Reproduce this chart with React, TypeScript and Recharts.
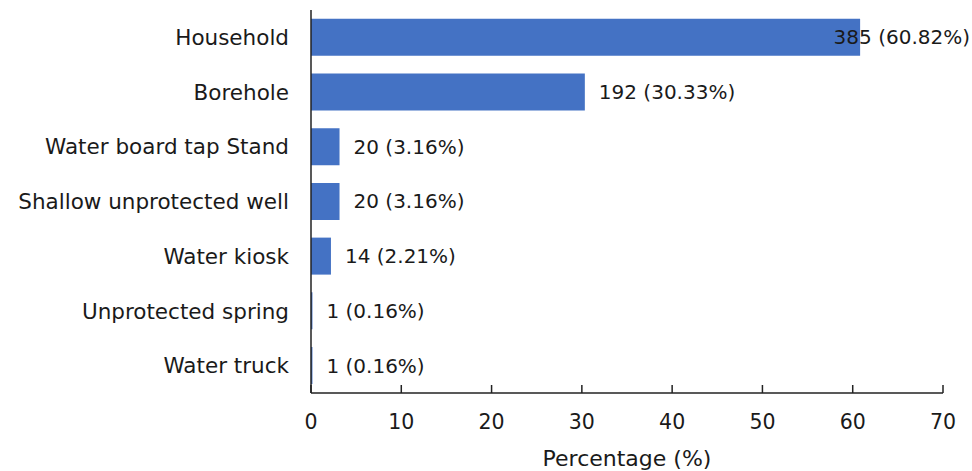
import { BarChart, Bar, XAxis, YAxis, LabelList } from 'recharts';

const categories = [
  'Household',
  'Borehole',
  'Water board tap Stand',
  'Shallow unprotected well',
  'Water kiosk',
  'Unprotected spring',
  'Water truck',
];
const counts = [385, 192, 20, 20, 14, 1, 1];
const percents = [60.82, 30.33, 3.16, 3.16, 2.21, 0.16, 0.16];
const xTicks = [0, 10, 20, 30, 40, 50, 60, 70];

const data = categories.map((name, i) => ({
  name,
  pct: percents[i],
  label: `${counts[i]} (${percents[i].toFixed(2)}%)`,
}));

const W = 972;
const H = 471;
const FONT = "'DejaVu Sans', Verdana, sans-serif";
const INK = '#1a1a1a';

// value label to the right of the bar; pulled back inside the canvas if it would overflow
const renderLabel = (props: any) => {
  const { x, y, width, height, value } = props;
  const text = String(value);
  const est = text.length * 11.4;
  const start = Number(x) + Number(width) + 14;
  const overflow = start + est > W - 2;
  return (
    <text
      x={overflow ? W - 2 : start}
      y={Number(y) + Number(height) / 2}
      textAnchor={overflow ? 'end' : 'start'}
      dominantBaseline="central"
      fontSize={20}
      fontFamily={FONT}
      fill={INK}
    >
      {text}
    </text>
  );
};

export default function App() {
  return (
    <div style={{ position: 'absolute', left: 0, top: 0, background: '#fff' }}>
      <BarChart
        width={W}
        height={H}
        data={data}
        layout="vertical"
        margin={{ top: 10, right: 29, bottom: 0, left: 0 }}
        barCategoryGap="16%"
        style={{ fontFamily: FONT }}
      >
        <XAxis
          type="number"
          domain={[0, 70]}
          ticks={xTicks}
          height={78}
          axisLine={{ stroke: '#222', strokeWidth: 1.5 }}
          tickLine={{ stroke: '#222', strokeWidth: 1.5 }}
          tickSize={-8}
          tickMargin={29}
          tick={{ fontSize: 20.5, fill: INK, fontFamily: FONT }}
          label={{
            value: 'Percentage (%)',
            position: 'insideBottom',
            offset: 5,
            fontSize: 22,
            fill: INK,
            fontFamily: FONT,
          }}
        />
        <YAxis
          type="category"
          dataKey="name"
          width={311}
          axisLine={{ stroke: '#222', strokeWidth: 1.5 }}
          tickLine={false}
          tickSize={0}
          tickMargin={22}
          interval={0}
          tick={{ fontSize: 21.5, fill: INK, fontFamily: FONT }}
        />
        <Bar dataKey="pct" fill="#4472C4" isAnimationActive={false}>
          <LabelList dataKey="label" content={renderLabel} />
        </Bar>
      </BarChart>
    </div>
  );
}
